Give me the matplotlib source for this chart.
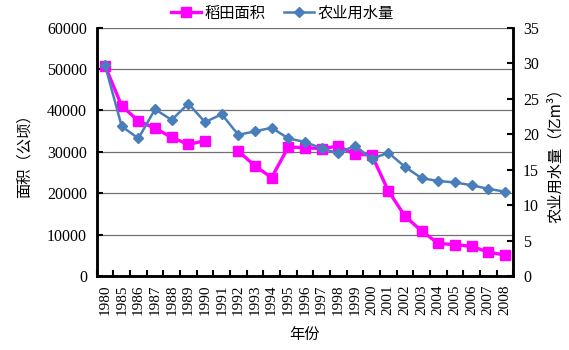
import numpy as np
import matplotlib
matplotlib.use("Agg")
import matplotlib.pyplot as plt

plt.rcParams["font.family"] = ["Liberation Serif", "Noto Sans CJK SC"]

# данные
years = ["1980", "1985", "1986", "1987", "1988", "1989", "1990", "1991",
         "1992", "1993", "1994", "1995", "1996", "1997", "1998", "1999",
         "2000", "2001", "2002", "2003", "2004", "2005", "2006", "2007", "2008"]
rice_area = [50800, 41100, 37500, 35700, 33500, 31800, 32700, np.nan,
             30200, 26600, 23800, 31200, 31000, 30800, 31400, 29400,
             29300, 20600, 14500, 10900, 7900, 7600, 7200, 5800, 5100]
water_use = [29.7, 21.1, 19.4, 23.5, 22.0, 24.3, 21.7, 22.8,
             19.9, 20.4, 20.9, 19.4, 18.9, 18.0, 17.3, 18.4,
             16.5, 17.4, 15.4, 13.8, 13.4, 13.2, 12.8, 12.3, 11.9]

cjk = ["Noto Sans CJK SC", "DejaVu Sans"]
magenta = "#FF00FF"
blue = "#4A7EBB"

fig = plt.figure(figsize=(5.69, 3.5), dpi=100)
ax = fig.add_axes([0.170, 0.211, 0.732, 0.710])
ax2 = ax.twinx()

x = np.arange(len(years))
l1, = ax.plot(x, rice_area, color=magenta, lw=2.4, marker="s", ms=6.5,
              label="稻田面积", zorder=3)
l2, = ax2.plot(x, water_use, color=blue, lw=1.8, marker="D", ms=5,
               label="农业用水量", zorder=4)

ax.set_xlim(-0.5, len(years) - 0.5)
ax.set_ylim(0, 60000)
ax2.set_ylim(0, 35)
ax.set_yticks(np.arange(0, 60001, 10000))
ax2.set_yticks(np.arange(0, 36, 5))
ax.grid(axis="y", color="#707070", lw=0.9)
ax.set_axisbelow(True)

# подписи по центрам, засечки на границах категорий
ax.set_xticks(x)
ax.set_xticklabels(years, rotation=90)
ax.set_xticks(np.arange(-0.5, len(years)), minor=True)
ax.tick_params(axis="x", which="major", length=0, pad=6, labelsize=11)
ax.tick_params(axis="x", which="minor", direction="in", length=4, width=1.5)
ax.tick_params(axis="y", direction="in", length=4, width=1.5, labelsize=11.5, pad=7)
ax2.tick_params(axis="y", direction="in", length=4, width=1.5, labelsize=11.5, pad=7)

for a in (ax, ax2):
    for s in a.spines.values():
        s.set_linewidth(1.8)
ax.spines["top"].set_visible(False)
ax2.spines["top"].set_visible(False)

ax.set_xlabel("年份", family=cjk, fontsize=11, labelpad=8)
ax.set_ylabel("面积（公顷）", family=cjk, fontsize=11, labelpad=10)
ax2.set_ylabel("农业用水量（亿m³）", family=cjk, fontsize=11, labelpad=6)

fig.legend(handles=[l1, l2], loc="center", bbox_to_anchor=(0.496, 0.962),
           ncol=2, frameon=False, prop={"family": cjk, "size": 11},
           handlelength=2.0, handletextpad=0.2, columnspacing=1.2)

fig.savefig("out.png", dpi=100)
